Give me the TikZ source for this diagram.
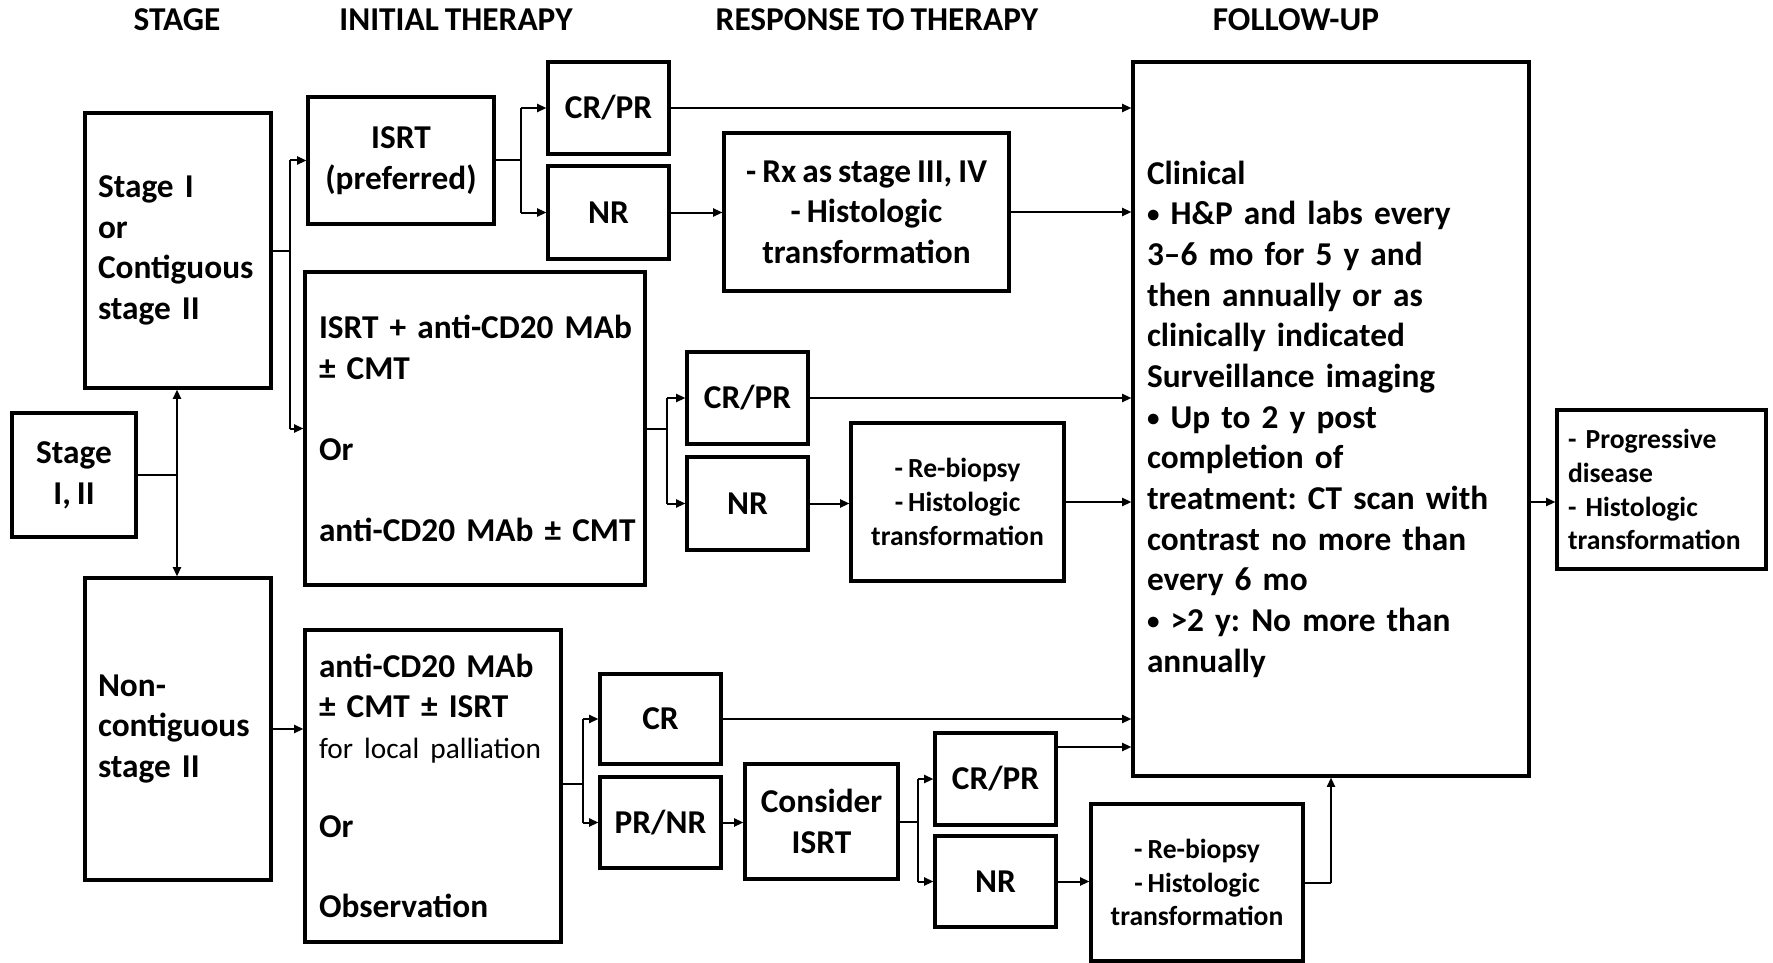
\documentclass[tikz,border=0pt]{standalone}
\usepackage{fontspec}
\usepackage{graphicx}
\setmainfont{Carlito}[WordSpace=0.8]
\usetikzlibrary{arrows.meta}
\newdimen\pxu \pxu=0.75pt
\newcommand\fbig{\fontsize{25}{30.5}\selectfont\bfseries\frenchspacing}
\newcommand\fsmall{\fontsize{20.7}{25.4}\selectfont\bfseries\frenchspacing}
\newcommand\bul{\raisebox{0.12ex}{\scalebox{0.75}{•}}}
\begin{document}
\begin{tikzpicture}[x=0.75pt,y=-0.75pt,
  box/.style={draw, line width=2.3pt, inner xsep=13\pxu, inner ysep=0pt, align=center, font=\fbig},
  wh/.style 2 args={minimum width=#1\pxu, minimum height=#2\pxu},
  tw/.style={text width=#1\pxu},
  hdr/.style={font=\fbig, inner sep=0pt},
  conn/.style={line width=1.5pt},
  arr/.style={conn, -{Triangle[length=7pt,width=6pt]}}]
\useasboundingbox (0,0) rectangle (1773,963);

% headers
\node[hdr] (h1) at (177,20) {STAGE};
\node[hdr] (h2) at (456,20) {INITIAL THERAPY};
\node[hdr] (h3) at (877,20) {RESPONSE TO THERAPY};
\node[hdr] (h4) at (1296,20) {FOLLOW-UP};

% stage column
\node[box, wh={186}{275}, align=left, tw=160] (stageI) at (178,250.5) {Stage I\\or\\Contiguous\\stage II};
\node[box, wh={124}{124}] (s12) at (74,475) {Stage\\I, II};
\node[box, wh={186}{302}, align=left, tw=160] (nonc) at (178,729) {Non-\\contiguous\\stage II};

% initial therapy
\node[box, wh={186}{127}] (isrt) at (401,160.5) {ISRT\\(preferred)};
\node[box, wh={340}{313}, align=left, inner xsep=14\pxu, tw=312] (combo) at (475,428.5) {\mbox{ISRT + anti-CD20 MAb}\\± CMT\\[\baselineskip]Or\\[\baselineskip]\mbox{anti-CD20 MAb ± CMT}};
\node[box, wh={256}{312}, align=left, inner xsep=14\pxu, tw=228] (anti) at (433,786) {anti-CD20 MAb\\± CMT ± ISRT\\{\normalfont\fontsize{22}{26}\selectfont\mbox{for local palliation}}\\[38\pxu]Or\\[40\pxu]Observation};

% responses
\node[box, wh={121}{92}] (crpr1) at (608.5,108) {CR/PR};
\node[box, wh={121}{93}] (nr1) at (608.5,212.5) {NR};
\node[box, wh={285}{158}] (rx) at (866.5,212) {- Rx as stage III, IV\\- Histologic\\transformation};
\node[box, wh={121}{92}] (crpr2) at (747.5,398) {CR/PR};
\node[box, wh={121}{93}] (nr2) at (747.5,503.5) {NR};
\node[box, wh={213}{158}, font=\fsmall] (reb1) at (957.5,502) {- Re-biopsy\\- Histologic\\transformation};
\node[box, wh={121}{90}] (cr3) at (660.5,719) {CR};
\node[box, wh={121}{91}] (prnr) at (660.5,822.5) {PR/NR};
\node[box, wh={153}{115}] (cons) at (821.5,821.5) {Consider\\ISRT};
\node[box, wh={121}{92}] (crpr4) at (995.5,779) {CR/PR};
\node[box, wh={121}{91}] (nr4) at (995.5,881.5) {NR};
\node[box, wh={212}{157}, font=\fsmall] (reb4) at (1197,882.5) {- Re-biopsy\\- Histologic\\transformation};

% follow-up
\node[box, wh={396}{714}, align=left, inner xsep=14\pxu, tw=368] (fu) at (1331,419) {Clinical\\\bul{} H\&P and labs every\\3–6 mo for 5 y and\\then annually or as\\clinically indicated\\Surveillance imaging\\\bul{} Up to 2 y post\\completion of\\treatment: CT scan with\\contrast no more than\\every 6 mo\\\bul{} >2 y: No more than\\annually};
\node[box, wh={209}{159}, align=left, tw=187, inner xsep=11\pxu, font=\fsmall] (prog) at (1661.5,489.5) {- Progressive\\disease\\- Histologic\\transformation};

% connectors: stage
\coordinate (j1) at (177,475);
\draw[conn] (s12.east) -- (j1);
\draw[arr] (j1) -- (j1 |- stageI.south);
\draw[arr] (j1) -- (j1 |- nonc.north);

\coordinate (j2) at (290,250.5);
\draw[conn] (stageI.east) -- (j2);
\draw[conn] (j2 |- isrt.west) -- (j2 |- combo.west);
\draw[arr] (j2 |- isrt.west) -- (isrt.west);
\draw[arr] (j2 |- combo.west) -- (combo.west);

\draw[arr] (nonc.east) -- (nonc.east -| anti.west);

% ISRT branch
\coordinate (j3) at (521,160.5);
\draw[conn] (isrt.east) -- (j3);
\draw[conn] (j3 |- crpr1.west) -- (j3 |- nr1.west);
\draw[arr] (j3 |- crpr1.west) -- (crpr1.west);
\draw[arr] (j3 |- nr1.west) -- (nr1.west);
\draw[arr] (crpr1.east) -- (crpr1.east -| fu.west);
\draw[arr] (nr1.east) -- (nr1.east -| rx.west);
\draw[arr] (rx.east) -- (rx.east -| fu.west);

% combo branch
\coordinate (j4) at (667,428.5);
\draw[conn] (combo.east) -- (j4);
\draw[conn] (j4 |- crpr2.west) -- (j4 |- nr2.west);
\draw[arr] (j4 |- crpr2.west) -- (crpr2.west);
\draw[arr] (j4 |- nr2.west) -- (nr2.west);
\draw[arr] (crpr2.east) -- (crpr2.east -| fu.west);
\draw[arr] (nr2.east) -- (nr2.east -| reb1.west);
\draw[arr] (reb1.east) -- (reb1.east -| fu.west);
\draw[arr] (reb1.east -| fu.east) -- (reb1.east -| prog.west);

% anti branch
\coordinate (j5) at (583,784);
\draw[conn] (j5 -| anti.east) -- (j5);
\draw[conn] (j5 |- cr3.west) -- (j5 |- prnr.west);
\draw[arr] (j5 |- cr3.west) -- (cr3.west);
\draw[arr] (j5 |- prnr.west) -- (prnr.west);
\draw[arr] (cr3.east) -- (cr3.east -| fu.west);
\draw[arr] (prnr.east) -- (prnr.east -| cons.west);

\coordinate (j6) at (918,821.5);
\draw[conn] (cons.east) -- (j6);
\draw[conn] (j6 |- crpr4.west) -- (j6 |- nr4.west);
\draw[arr] (j6 |- crpr4.west) -- (crpr4.west);
\draw[arr] (j6 |- nr4.west) -- (nr4.west);
\coordinate (c4) at (crpr4.east |- 0,747);
\draw[arr] (c4) -- (c4 -| fu.west);
\draw[arr] (nr4.east) -- (nr4.east -| reb4.west);
\coordinate (j7) at (fu.south |- reb4.east);
\draw[conn] (reb4.east) -- (j7);
\draw[arr] (j7) -- (fu.south);
\end{tikzpicture}
\end{document}
